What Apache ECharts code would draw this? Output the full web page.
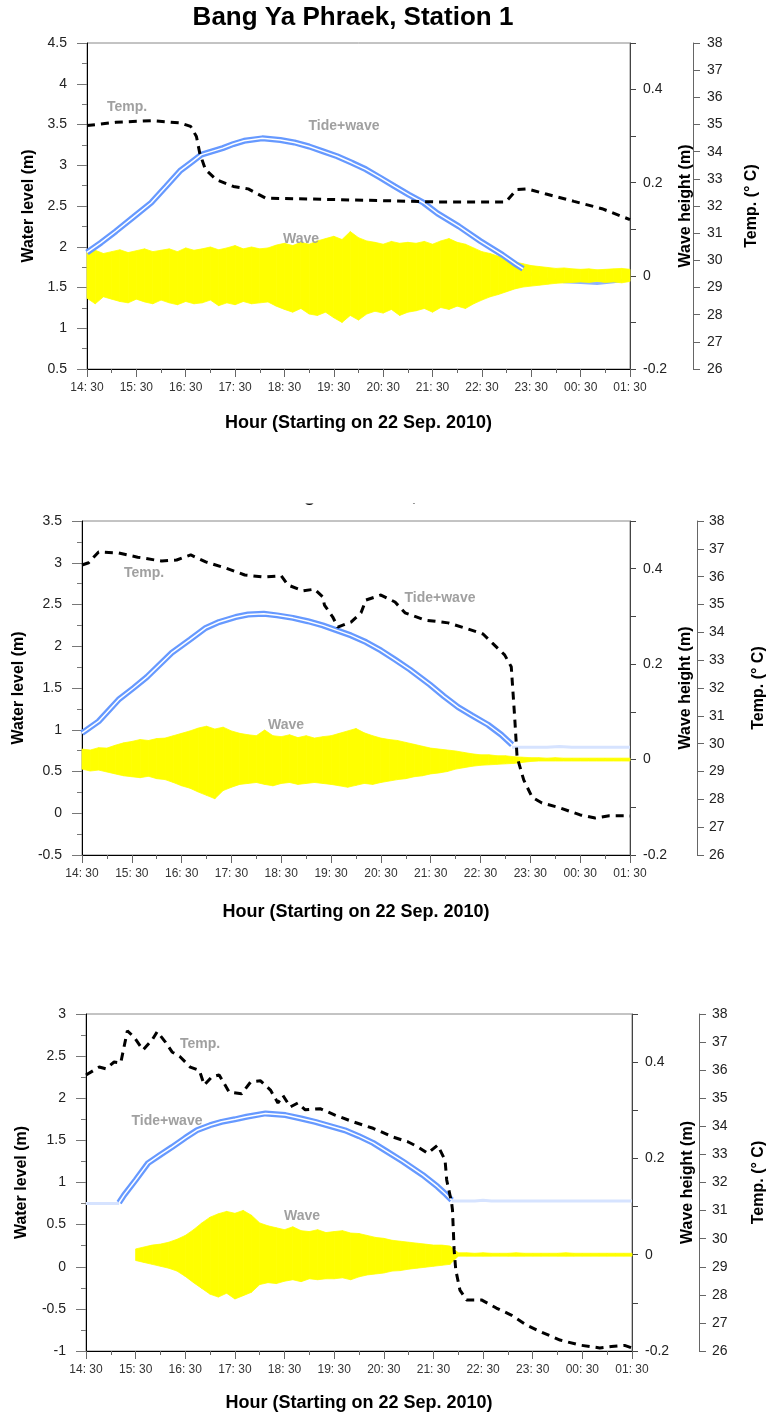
<!DOCTYPE html>
<html>
<head>
<meta charset="utf-8">
<title>Bang Ya Phraek</title>
<script src="https://cdn.jsdelivr.net/npm/echarts@6/dist/echarts.min.js"></script>
<style>
  html, body { margin: 0; padding: 0; background: #fff; }
  #chart { width: 775px; height: 1418px; }
</style>
</head>
<body>
<div id="chart"></div>
<script>
// minutes after 14:30, 22 Sep 2010
var waveMinutes = Array.from({ length: 67 }, function (d, i) { return i * 10 })

// ---- station 1 ----
var tide1 = [[0, 1.93], [17, 2.05], [35, 2.19], [56, 2.36], [78, 2.54], [96, 2.74], [113, 2.93], [126, 3.03],
  [139, 3.13], [152, 3.17], [165, 3.21], [178, 3.26], [191, 3.30], [213, 3.33], [235, 3.31], [252, 3.28],
  [270, 3.23], [287, 3.17], [304, 3.11], [322, 3.03], [339, 2.95], [356, 2.85], [374, 2.74], [391, 2.64],
  [409, 2.54], [426, 2.41], [452, 2.25], [478, 2.07], [505, 1.90], [522, 1.78], [530, 1.73]]
var dry1 = [[530, 1.72], [545, 1.64], [560, 1.60], [580, 1.57], [600, 1.56], [620, 1.55], [640, 1.57], [660, 1.60]]
var temp1 = [[0, 34.96], [35, 35.08], [78, 35.14], [113, 35.06], [126, 34.93], [133, 34.56], [137, 33.95],
  [144, 33.34], [157, 32.97], [178, 32.72], [196, 32.63], [209, 32.42], [217, 32.29], [252, 32.27],
  [339, 32.21], [426, 32.15], [509, 32.15], [522, 32.6], [535, 32.63], [557, 32.45], [592, 32.17],
  [626, 31.9], [660, 31.5]]
var waveHi1 = [0.050, 0.055, 0.048, 0.052, 0.056, 0.050, 0.054, 0.058, 0.052, 0.055,
  0.058, 0.052, 0.060, 0.055, 0.058, 0.062, 0.056, 0.060, 0.065, 0.058,
  0.062, 0.058, 0.060, 0.066, 0.070, 0.065, 0.072, 0.068, 0.075, 0.080,
  0.085, 0.078, 0.095, 0.082, 0.075, 0.072, 0.068, 0.074, 0.070, 0.072,
  0.070, 0.074, 0.068, 0.075, 0.080, 0.072, 0.068, 0.060, 0.052, 0.048,
  0.042, 0.036, 0.030, 0.026, 0.022, 0.020, 0.018, 0.016, 0.017, 0.015,
  0.014, 0.015, 0.013, 0.014, 0.015, 0.016, 0.014]
var waveLo1 = [-0.048, -0.060, -0.045, -0.050, -0.055, -0.058, -0.050, -0.056, -0.060, -0.052,
  -0.058, -0.062, -0.055, -0.060, -0.058, -0.052, -0.064, -0.058, -0.062, -0.055,
  -0.060, -0.058, -0.056, -0.065, -0.072, -0.078, -0.070, -0.082, -0.085, -0.078,
  -0.090, -0.100, -0.085, -0.095, -0.082, -0.076, -0.080, -0.072, -0.085, -0.078,
  -0.075, -0.070, -0.078, -0.068, -0.072, -0.065, -0.070, -0.060, -0.052, -0.045,
  -0.040, -0.034, -0.028, -0.024, -0.022, -0.020, -0.018, -0.016, -0.015, -0.014,
  -0.013, -0.014, -0.012, -0.014, -0.013, -0.015, -0.012]

// ---- station 2 ----
var tide2 = [[0, 0.96], [20, 1.10], [44, 1.36], [62, 1.50], [78, 1.63], [108, 1.92], [130, 2.08], [149, 2.22],
  [165, 2.29], [185, 2.35], [200, 2.38], [219, 2.39], [235, 2.37], [254, 2.34], [272, 2.30], [290, 2.25],
  [307, 2.19], [324, 2.13], [342, 2.05], [360, 1.95], [377, 1.84], [395, 1.72], [419, 1.54], [436, 1.40],
  [453, 1.27], [470, 1.17], [489, 1.06], [505, 0.94], [518, 0.82]]
var dry2 = [[518, 0.79], [560, 0.79], [575, 0.80], [590, 0.79], [660, 0.79]]
var temp2 = [[0, 36.42], [8, 36.5], [20, 36.89], [44, 36.85], [67, 36.7], [96, 36.56], [114, 36.6], [131, 36.78],
  [149, 36.53], [173, 36.31], [196, 36.06], [219, 35.99], [240, 36.03], [248, 35.7], [266, 35.49],
  [280, 35.55], [290, 35.27], [292, 34.98], [302, 34.55], [308, 34.19], [324, 34.37], [336, 34.7],
  [342, 35.16], [360, 35.34], [377, 35.09], [389, 34.7], [413, 34.44], [441, 34.34], [465, 34.12],
  [483, 33.94], [494, 33.62], [509, 33.19], [517, 32.76], [521, 31.0], [524, 29.52], [532, 28.7],
  [542, 28.08], [554, 27.87], [576, 27.69], [600, 27.44], [618, 27.33], [635, 27.41], [653, 27.41], [660, 27.4]]
var waveHi2 = [0.022, 0.020, 0.025, 0.024, 0.030, 0.035, 0.038, 0.042, 0.040, 0.044,
  0.045, 0.050, 0.055, 0.060, 0.066, 0.070, 0.064, 0.068, 0.060, 0.055,
  0.052, 0.050, 0.062, 0.050, 0.048, 0.052, 0.046, 0.050, 0.045, 0.048,
  0.050, 0.055, 0.060, 0.065, 0.056, 0.050, 0.045, 0.042, 0.040, 0.036,
  0.032, 0.028, 0.024, 0.022, 0.020, 0.018, 0.015, 0.012, 0.010, 0.010,
  0.008, 0.008, 0.006, 0.005, 0.004, 0.004, 0.003, 0.004, 0.003, 0.003,
  0.003, 0.003, 0.003, 0.003, 0.003, 0.003, 0.003]
var waveLo2 = [-0.020, -0.024, -0.022, -0.026, -0.030, -0.034, -0.036, -0.038, -0.035, -0.040,
  -0.042, -0.048, -0.055, -0.060, -0.068, -0.075, -0.082, -0.065, -0.058, -0.052,
  -0.050, -0.048, -0.052, -0.055, -0.050, -0.048, -0.052, -0.050, -0.048, -0.050,
  -0.052, -0.055, -0.058, -0.054, -0.050, -0.052, -0.048, -0.045, -0.042, -0.040,
  -0.036, -0.034, -0.030, -0.028, -0.025, -0.020, -0.017, -0.014, -0.012, -0.011,
  -0.010, -0.009, -0.008, -0.006, -0.004, -0.003, -0.003, -0.003, -0.003, -0.003,
  -0.003, -0.003, -0.003, -0.003, -0.003, -0.003, -0.003]

// ---- station 3 ----
var tide3 = [[40, 0.76], [46, 0.85], [60, 1.03], [75, 1.23], [90, 1.33], [104, 1.42], [120, 1.53], [134, 1.62],
  [150, 1.68], [164, 1.72], [180, 1.75], [194, 1.78], [217, 1.82], [241, 1.80], [260, 1.76], [277, 1.72],
  [295, 1.67], [313, 1.62], [330, 1.55], [347, 1.47], [365, 1.36], [383, 1.25], [395, 1.17], [407, 1.09],
  [425, 0.95], [435, 0.86], [442, 0.79]]
var dry3a = [[0, 0.75], [40, 0.75]]
var dry3b = [[442, 0.78], [470, 0.78], [480, 0.79], [490, 0.78], [660, 0.78]]
var temp3 = [[0, 35.83], [16, 36.11], [24, 36.05], [34, 36.29], [42, 36.26], [46, 36.83], [50, 37.4], [58, 37.18],
  [69, 36.72], [80, 37.08], [86, 37.37], [96, 37.0], [104, 36.65], [114, 36.47], [126, 36.11], [137, 35.99],
  [143, 35.47], [152, 35.76], [161, 35.83], [173, 35.22], [188, 35.16], [199, 35.58], [211, 35.62],
  [223, 35.29], [232, 34.83], [238, 35.1], [247, 34.69], [256, 34.83], [265, 34.59], [283, 34.63],
  [301, 34.4], [323, 34.16], [347, 33.93], [371, 33.62], [389, 33.45], [401, 33.27], [413, 33.04],
  [425, 33.33], [434, 32.8], [436, 32.09], [442, 31.27], [443, 31.02], [445, 29.6], [447, 28.88],
  [452, 28.17], [460, 27.82], [478, 27.82], [496, 27.53], [514, 27.28], [532, 26.93], [550, 26.68],
  [573, 26.39], [597, 26.21], [621, 26.11], [635, 26.16], [651, 26.2], [660, 26.11]]
var waveHi3 = [null, null, null, null, null, null,
  0.012, 0.016, 0.020, 0.022,
  0.026, 0.032, 0.040, 0.052, 0.066, 0.078, 0.085, 0.090, 0.086, 0.092,
  0.082, 0.066, 0.060, 0.056, 0.052, 0.058, 0.050, 0.048, 0.052, 0.046,
  0.048, 0.050, 0.045, 0.044, 0.040, 0.036, 0.034, 0.030, 0.028, 0.026,
  0.024, 0.022, 0.020, 0.020, 0.018, 0.004, 0.004, 0.003, 0.004, 0.003,
  0.003, 0.003, 0.004, 0.003, 0.003, 0.003, 0.003, 0.003, 0.004, 0.003,
  0.003, 0.003, 0.003, 0.003, 0.003, 0.003, 0.003]
var waveLo3 = [null, null, null, null, null, null,
  -0.012, -0.016, -0.020, -0.024,
  -0.028, -0.034, -0.045, -0.058, -0.070, -0.082, -0.088, -0.080, -0.092, -0.085,
  -0.078, -0.062, -0.058, -0.060, -0.055, -0.052, -0.056, -0.050, -0.052, -0.050,
  -0.050, -0.048, -0.052, -0.046, -0.042, -0.040, -0.038, -0.034, -0.033, -0.030,
  -0.028, -0.026, -0.024, -0.022, -0.020, -0.003, -0.003, -0.003, -0.003, -0.003,
  -0.003, -0.003, -0.003, -0.003, -0.003, -0.003, -0.003, -0.003, -0.003, -0.003,
  -0.003, -0.003, -0.003, -0.003, -0.003, -0.003, -0.003]

// 每个面板的布局
var panels = [
  { grid: { left: 87, top: 43, width: 543, height: 326 }, wMin: 0.5, wMax: 4.5, tempOffset: 63,
    leftGap: 49, waveGap: 40, tempGap: 51, xGap: 45, tempMargin: 14 },
  { grid: { left: 82, top: 521, width: 556, height: 334 }, wMin: -0.5, wMax: 3.5, tempOffset: 67,
    leftGap: 54, waveGap: 46, tempGap: 54, xGap: 48, tempMargin: 12 },
  { grid: { left: 86, top: 1014, width: 551, height: 337 }, wMin: -1, wMax: 3, tempOffset: 67,
    leftGap: 56, waveGap: 40, tempGap: 52, xGap: 43, tempMargin: 13 }
]

var narrow = '"Liberation Sans Narrow", "Arial Narrow", "Liberation Sans", Arial, sans-serif'
var sans = '"Liberation Sans", Arial, Helvetica, sans-serif'

function hourLabel (v) {
  var total = 14 * 60 + 30 + v
  var hh = Math.floor(total / 60) % 24
  var mm = total % 60
  return (hh < 10 ? '0' : '') + hh + ': ' + (mm < 10 ? '0' : '') + mm
}

function waveSegments (hi, lo) {
  var out = []
  for (var i = 0; i < waveMinutes.length - 1; i++) {
    if (hi[i] == null || hi[i + 1] == null) continue
    out.push([waveMinutes[i], waveMinutes[i + 1], lo[i], hi[i], lo[i + 1], hi[i + 1]])
  }
  return out
}

function renderBand (params, api) {
  var a = api.coord([api.value(0), api.value(3)])
  var b = api.coord([api.value(1), api.value(5)])
  var c = api.coord([api.value(1), api.value(4)])
  var d = api.coord([api.value(0), api.value(2)])
  return {
    type: 'polygon',
    shape: { points: [a, b, c, d] },
    style: { fill: '#ffff00', stroke: '#ffff00', lineWidth: 0.8 }
  }
}

var grids = []
var xAxes = []
var yAxes = []
var series = []

var tideSets = [[tide1], [tide2], [tide3]]
var drySets = [[dry1], [dry2], [dry3a, dry3b]]
var tempSets = [temp1, temp2, temp3]
var waveSets = [[waveHi1, waveLo1], [waveHi2, waveLo2], [waveHi3, waveLo3]]

panels.forEach(function (p, i) {
  grids.push(Object.assign({ show: true, borderColor: '#888', borderWidth: 1, backgroundColor: 'transparent' }, p.grid))
  xAxes.push({
    type: 'value',
    gridIndex: i,
    min: 0,
    max: 660,
    interval: 60,
    name: 'Hour (Starting on 22 Sep. 2010)',
    nameLocation: 'middle',
    nameGap: p.xGap,
    nameTextStyle: { fontFamily: narrow, fontWeight: 'bold', fontSize: 18, color: '#000' },
    axisLine: { show: true, onZero: false, lineStyle: { color: '#000', width: 1 } },
    axisTick: { show: true, length: 8, lineStyle: { color: '#666' } },
    minorTick: { show: true, splitNumber: 2, length: 4, lineStyle: { color: '#666' } },
    axisLabel: { fontFamily: narrow, fontSize: 12, color: '#333', margin: 13, formatter: hourLabel },
    splitLine: { show: false },
    minorSplitLine: { show: false }
  })
  // 水位轴
  yAxes.push({
    type: 'value',
    gridIndex: i,
    position: 'left',
    min: p.wMin,
    max: p.wMax,
    interval: 0.5,
    name: 'Water level (m)',
    nameLocation: 'middle',
    nameRotate: 90,
    nameGap: p.leftGap,
    nameTextStyle: { fontFamily: sans, fontWeight: 'bold', fontSize: 16, color: '#000' },
    axisLine: { show: true, onZero: false, lineStyle: { color: '#000' } },
    axisTick: { show: true, length: 10, lineStyle: { color: '#777' } },
    minorTick: { show: true, splitNumber: 2, length: 5, lineStyle: { color: '#777' } },
    axisLabel: { fontFamily: sans, fontSize: 14, color: '#222', margin: 20 },
    splitLine: { show: false },
    minorSplitLine: { show: false }
  })
  // 波高轴
  yAxes.push({
    type: 'value',
    gridIndex: i,
    position: 'right',
    min: -0.2,
    max: 0.5,
    interval: 0.1,
    name: 'Wave height (m)',
    nameLocation: 'middle',
    nameRotate: 90,
    nameGap: p.waveGap,
    nameTextStyle: { fontFamily: sans, fontWeight: 'bold', fontSize: 16, color: '#000' },
    axisLine: { show: true, onZero: false, lineStyle: { color: '#444' } },
    axisTick: { show: true, length: 6, lineStyle: { color: '#444' } },
    axisLabel: {
      fontFamily: sans,
      fontSize: 14,
      color: '#222',
      margin: 13,
      formatter: function (v) {
        var k = Math.round(v * 10)
        if (k % 2 !== 0 || k > 4) return ''
        return k === 0 ? '0' : (k / 10).toFixed(1)
      }
    },
    splitLine: { show: false }
  })
  // 温度轴
  yAxes.push({
    type: 'value',
    gridIndex: i,
    position: 'right',
    offset: p.tempOffset,
    min: 26,
    max: 38,
    interval: 1,
    name: 'Temp. (° C)',
    nameLocation: 'middle',
    nameRotate: 90,
    nameGap: p.tempGap,
    nameTextStyle: { fontFamily: sans, fontWeight: 'bold', fontSize: 16, color: '#000' },
    axisLine: { show: true, onZero: false, lineStyle: { color: '#666' } },
    axisTick: { show: true, length: 7, lineStyle: { color: '#666' } },
    axisLabel: { fontFamily: sans, fontSize: 14, color: '#222', margin: p.tempMargin },
    splitLine: { show: false }
  })

  var yw = i * 3
  drySets[i].forEach(function (d) {
    series.push({
      type: 'line', xAxisIndex: i, yAxisIndex: yw, data: d, symbol: 'none', z: 1,
      lineStyle: { color: i === 0 ? '#8fb2ff' : '#d6e3ff', width: 3 }, silent: true
    })
  })
  series.push({
    type: 'custom', xAxisIndex: i, yAxisIndex: yw + 1, z: 2, silent: true,
    renderItem: renderBand,
    encode: { x: [0, 1], y: [2, 3, 4, 5] },
    data: waveSegments(waveSets[i][0], waveSets[i][1])
  })
  tideSets[i].forEach(function (d) {
    series.push({
      type: 'line', xAxisIndex: i, yAxisIndex: yw, data: d, symbol: 'none', z: 3,
      lineStyle: { color: '#6699ff', width: 6 }, silent: true
    })
    series.push({
      type: 'line', xAxisIndex: i, yAxisIndex: yw, data: d, symbol: 'none', z: 4,
      lineStyle: { color: '#ffffff', width: 1.5 }, silent: true
    })
  })
  series.push({
    type: 'line', xAxisIndex: i, yAxisIndex: yw + 2, data: tempSets[i], symbol: 'none', z: 5,
    lineStyle: { color: '#000', width: 3, type: [8, 6], cap: 'butt' }, silent: true
  })
})

function note (text, x, y) {
  return {
    type: 'text', x: x, y: y, z: 100, silent: true,
    style: { text: text, fill: '#a0a0a0', font: 'bold 14px ' + sans, align: 'center', verticalAlign: 'middle' }
  }
}

var option = {
  animation: false,
  backgroundColor: '#ffffff',
  grid: grids,
  xAxis: xAxes,
  yAxis: yAxes,
  series: series,
  graphic: [
    {
      type: 'text', x: 353, y: 18, z: 100, silent: true,
      style: { text: 'Bang Ya Phraek, Station 1', fill: '#000', font: 'bold 26px ' + sans, align: 'center', verticalAlign: 'middle' }
    },
    // 第二个标题被裁掉，只露出底部
    {
      type: 'text', x: 385, y: 496, z: 100, silent: true,
      style: { text: 'Bang Ya Phraek, Station 2', fill: '#000', font: 'bold 19px ' + sans, align: 'center', verticalAlign: 'middle' }
    },
    { type: 'rect', z: 101, silent: true, shape: { x: 240, y: 470, width: 300, height: 33.5 }, style: { fill: '#fff' } },
    note('Temp.', 127, 107),
    note('Tide+wave', 344, 126),
    note('Wave', 301, 239),
    note('Temp.', 144, 573),
    note('Tide+wave', 440, 598),
    note('Wave', 286, 725),
    note('Temp.', 200, 1044),
    note('Tide+wave', 167, 1121),
    note('Wave', 302, 1216)
  ]
}

var chart = echarts.init(document.getElementById('chart'))
chart.setOption(option)
window.addEventListener('resize', function () {
  chart.resize()
})
</script>
</body>
</html>
